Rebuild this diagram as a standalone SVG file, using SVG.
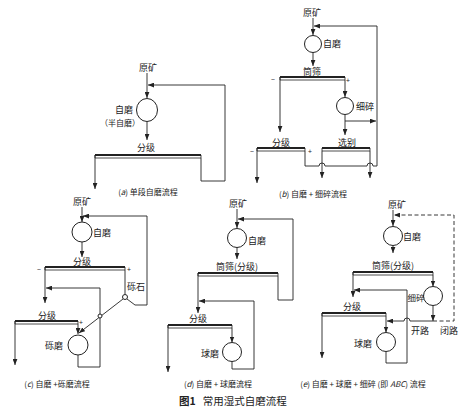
<svg xmlns="http://www.w3.org/2000/svg" width="467" height="420" viewBox="0 0 467 420">
<defs>
<marker id="ar" viewBox="0 0 10 8" refX="10" refY="4" markerWidth="6" markerHeight="5" markerUnits="userSpaceOnUse" orient="auto"><path d="M0,0 L10,4 L0,8 z" fill="#222"/></marker>
<style>
.l{fill:none;stroke:#222;stroke-width:0.9}
.d{fill:none;stroke:#222;stroke-width:0.9;stroke-dasharray:4,2.5}
.m{fill:#fff;stroke:#222;stroke-width:1}
.s{fill:none;stroke:#222;stroke-width:0.8}
.st{fill:none;stroke:#222;stroke-width:1.8}
.t{font-family:"Noto Sans CJK SC","Noto Sans",sans-serif;font-size:9px;fill:#222;text-anchor:middle;dominant-baseline:central}
.c{font-size:8px}
.p{font-size:7px}
.ti{font-size:10.5px}
</style>
</defs>
<rect width="467" height="420" fill="#fff"/>

<!-- Panel (a) -->
<g id="a-connectors">
<path class="l" d="M147,73 V98" marker-end="url(#ar)"/>
<path class="l" d="M201,158 V181 H225 V85 H148" marker-end="url(#ar)"/>
<path class="l" d="M147,122 V140" marker-end="url(#ar)"/>
<path class="l" d="M95,155 V189" marker-end="url(#ar)"/>
</g>
<g id="a-feed"><text class="t" x="148" y="67">原矿</text></g>
<g id="a-mill"><ellipse class="m" cx="147" cy="110" rx="10.5" ry="11.5"/><text class="t" x="124" y="109">自磨</text><text class="t" x="120" y="122" style="font-size:8px">（半自磨）</text></g>
<g id="a-screen"><path class="st" d="M95,155 H201"/><path class="s" d="M95,155 V158 H201 V155"/><text class="t" x="146" y="147">分级</text></g>
<g id="a-caption"><text class="t c" x="148" y="191">(<tspan font-style="italic">a</tspan>) 单段自磨流程</text></g>

<!-- Panel (b) -->
<g id="b-connectors">
<path class="l" d="M313,18 V35" marker-end="url(#ar)"/>
<path class="l" d="M305,151 V166 H319 a3,3 0 0 1 6,0 H367 a3,3 0 0 1 6,0 H377 V26 H314" marker-end="url(#ar)"/>
<path class="l" d="M313,52.5 V66" marker-end="url(#ar)"/>
<path class="l" d="M280,77 V132" marker-end="url(#ar)"/>
<path class="l" d="M345,80 V97" marker-end="url(#ar)"/>
<path class="l" d="M345,114.5 V135" marker-end="url(#ar)"/>
<path class="l" d="M345,121 H376" marker-end="url(#ar)"/>
<path class="l" d="M257,148 V183" marker-end="url(#ar)"/>
<path class="l" d="M322,151 V178" marker-end="url(#ar)"/>
<path class="l" d="M370,151 V178" marker-end="url(#ar)"/>
</g>
<g id="b-feed"><text class="t" x="312" y="12">原矿</text></g>
<g id="b-mill"><circle class="m" cx="313" cy="44" r="8.5"/><text class="t" x="332" y="43">自磨</text></g>
<g id="b-trommel"><path class="st" d="M280,77 H345"/><path class="s" d="M280,77 V80 H345 V77"/><text class="t" x="312" y="71">筒筛</text><text class="t p" x="273" y="79">−</text><text class="t p" x="348" y="80">+</text></g>
<g id="b-crusher"><circle class="m" cx="345" cy="106" r="8.5"/><text class="t" x="365" y="106">细碎</text></g>
<g id="b-classify"><path class="st" d="M257,148 H305"/><path class="s" d="M257,148 V151 H305 V148"/><text class="t" x="281" y="142">分级</text><text class="t p" x="252" y="151">−</text><text class="t p" x="310" y="151">+</text></g>
<g id="b-separate"><path class="st" d="M322,148 H370"/><path class="s" d="M322,148 V151 H370 V148"/><text class="t" x="347" y="142">选别</text></g>
<g id="b-caption"><text class="t c" x="313" y="193">(<tspan font-style="italic">b</tspan>) 自磨 + 细碎流程</text></g>

<!-- Panel (c) -->
<g id="c-connectors">
<path class="l" d="M82,207 V222" marker-end="url(#ar)"/>
<path class="l" d="M82,242 V257" marker-end="url(#ar)"/>
<path class="l" d="M125,270 V294.5"/>
<path class="l" d="M127,299 L135,305 H147 V216 H83" marker-end="url(#ar)"/>
<path class="l" d="M123,299 L79,333" marker-end="url(#ar)"/>
<path class="l" d="M78,355 V367 H100 V288 H46" marker-end="url(#ar)"/>
<path class="l" d="M45,267 V303" marker-end="url(#ar)"/>
<path class="l" d="M15,321 V365" marker-end="url(#ar)"/>
<path class="l" d="M78,324 V334" marker-end="url(#ar)"/>
</g>
<g id="c-feed"><text class="t" x="82" y="201">原矿</text></g>
<g id="c-mill"><circle class="m" cx="82" cy="232" r="10"/><text class="t" x="102" y="232">自磨</text></g>
<g id="c-classify1"><path class="st" d="M45,267 H125"/><path class="s" d="M45,267 V270 H125 V267"/><text class="t" x="82" y="261">分级</text><text class="t p" x="39" y="269">−</text><text class="t p" x="129" y="269">+</text></g>
<g id="c-pebble"><circle class="m" cx="125" cy="297" r="2.5"/><text class="t" x="136" y="286">砾石</text></g>
<g id="c-junction"><circle class="m" cx="100" cy="316" r="2"/></g>
<g id="c-classify2"><path class="st" d="M15,321 H78"/><path class="s" d="M15,321 V324 H78 V321"/><text class="t" x="47" y="315">分级</text><text class="t p" x="81" y="322">+</text></g>
<g id="c-pebblemill"><circle class="m" cx="78" cy="345" r="10"/><text class="t" x="54" y="345">砾磨</text></g>
<g id="c-caption"><text class="t c" x="57" y="383">(<tspan font-style="italic">c</tspan>) 自磨 +砾磨流程</text></g>

<!-- Panel (d) -->
<g id="d-connectors">
<path class="l" d="M237,209 V228" marker-end="url(#ar)"/>
<path class="l" d="M278,276 V300 H293 V219 H238" marker-end="url(#ar)"/>
<path class="l" d="M237,247.5 V259" marker-end="url(#ar)"/>
<path class="l" d="M198,273 V313" marker-end="url(#ar)"/>
<path class="l" d="M168,325 V372" marker-end="url(#ar)"/>
<path class="l" d="M232,328 V342.5" marker-end="url(#ar)"/>
<path class="l" d="M232,361.5 V369 H254 V301 H199" marker-end="url(#ar)"/>
</g>
<g id="d-feed"><text class="t" x="238" y="203">原矿</text></g>
<g id="d-mill"><circle class="m" cx="237" cy="238" r="9.5"/><text class="t" x="257" y="240">自磨</text></g>
<g id="d-trommel"><path class="st" d="M198,273 H278"/><path class="s" d="M198,273 V276 H278 V273"/><text class="t" x="237" y="266">筒筛(分级)</text></g>
<g id="d-classify"><path class="st" d="M168,325 H232"/><path class="s" d="M168,325 V328 H232 V325"/><text class="t" x="198" y="318">分级</text></g>
<g id="d-ballmill"><circle class="m" cx="232" cy="352" r="9.5"/><text class="t" x="210" y="353">球磨</text></g>
<g id="d-caption"><text class="t c" x="218" y="383">(<tspan font-style="italic">d</tspan>) 自磨 + 球磨流程</text></g>

<!-- Panel (e) -->
<g id="e-connectors">
<path class="l" d="M393,210 V226" marker-end="url(#ar)"/>
<path class="d" d="M433,321 H454 V215 H394" marker-end="url(#ar)"/>
<path class="l" d="M393,245.5 V253" marker-end="url(#ar)"/>
<path class="l" d="M353,272 V297" marker-end="url(#ar)"/>
<path class="l" d="M322,313 V358" marker-end="url(#ar)"/>
<path class="l" d="M386,316 V332.5" marker-end="url(#ar)"/>
<path class="l" d="M386,351.5 V363 H407 V290 H354" marker-end="url(#ar)"/>
<path class="l" d="M433,275 V286.5" marker-end="url(#ar)"/>
<path class="l" d="M433,305.5 V321" marker-end="url(#ar)"/>
<path class="l" d="M433,321 H410 a3,3 0 0 0 -6,0 H387" marker-end="url(#ar)"/>
</g>
<g id="e-feed"><text class="t" x="397" y="204">原矿</text></g>
<g id="e-mill"><circle class="m" cx="393" cy="236" r="9.5"/><text class="t" x="412" y="236">自磨</text></g>
<g id="e-trommel"><path class="st" d="M353,272 H433"/><path class="s" d="M353,272 V275 H433 V272"/><text class="t" x="393" y="265">筒筛(分级)</text></g>
<g id="e-classify"><path class="st" d="M322,313 H386"/><path class="s" d="M322,313 V316 H386 V313"/><text class="t" x="352" y="306">分级</text></g>
<g id="e-crusher"><circle class="m" cx="433" cy="296" r="9.5"/><text class="t" x="416" y="297" style="font-size:8.5px">细碎</text></g>
<g id="e-ballmill"><circle class="m" cx="386" cy="342" r="9.5"/><text class="t" x="363" y="343">球磨</text></g>
<g id="e-labels"><text class="t" x="420" y="330">开路</text><text class="t" x="449" y="330">闭路</text></g>
<g id="e-caption"><text class="t c" x="363" y="383">(<tspan font-style="italic">e</tspan>) 自磨 + 球磨 + 细碎 (即 <tspan font-style="italic">ABC</tspan>) 流程</text></g>

<g id="title"><text class="t ti" x="233" y="400" xml:space="preserve"><tspan font-weight="bold">图1</tspan>   常用湿式自磨流程</text></g>
</svg>
